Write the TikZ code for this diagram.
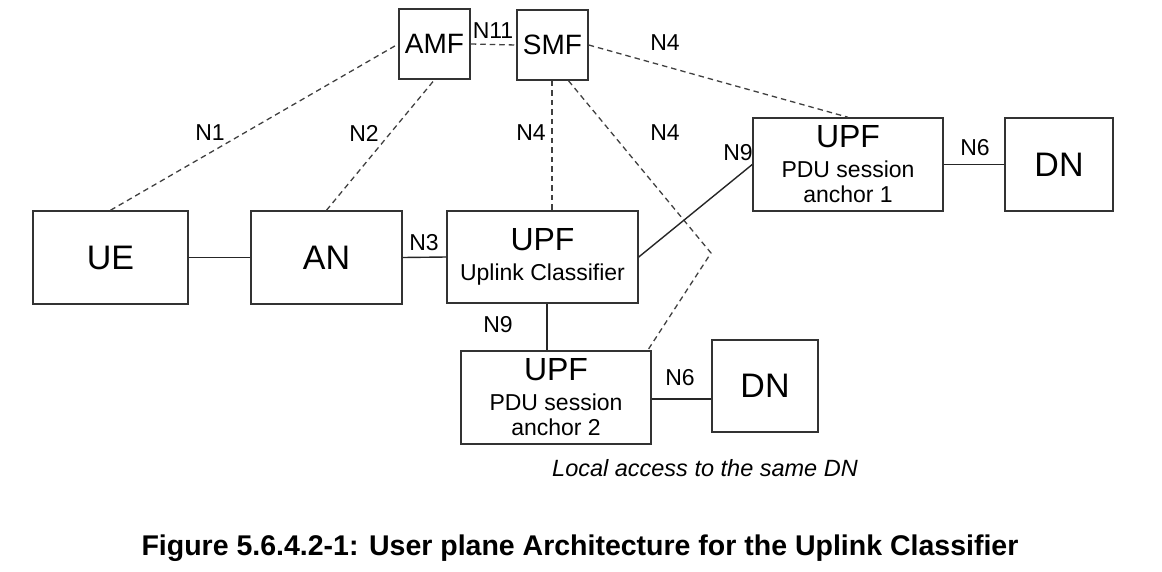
\documentclass[tikz,border=0pt]{standalone}
\usepackage{fontspec}
\setmainfont{Liberation Sans}
\usetikzlibrary{calc}
\begin{document}
\begin{tikzpicture}[x=1pt,y=-1pt,
  box/.style={draw=black!80, line width=1.5pt, inner sep=0pt, align=center, font=\fontsize{34}{38}\selectfont},
  upfbox/.style={box, font=\fontsize{23}{25}\selectfont},
  cpbox/.style={box, font=\fontsize{28}{30}\selectfont},
  lbl/.style={inner sep=0pt, font=\fontsize{23}{25}\selectfont},
  link/.style={draw=black!85, line width=1.4pt},
  ctl/.style={draw=black!75, line width=1.3pt, dash pattern=on 5.5pt off 4pt},
]
\useasboundingbox (0,0) rectangle (1162,571);

% control plane
\node[cpbox, minimum width=71, minimum height=70] (AMF) at (434.5,44) {AMF};
\node[cpbox, minimum width=71, minimum height=70] (SMF) at (552.5,45) {SMF};

% user plane
\node[box, minimum width=155, minimum height=93] (UE) at (110.5,257.5) {UE};
\node[box, minimum width=151, minimum height=93] (AN) at (326.5,257.5) {AN};
\node[upfbox, minimum width=191, minimum height=92] (UL) at (542.5,257) {{\fontsize{32}{32}\selectfont UPF}\\[5pt]Uplink Classifier};
\node[upfbox, minimum width=190, minimum height=93] (A1) at (848,164.5) {{\fontsize{32}{32}\selectfont UPF}\\[5pt]PDU session\\anchor 1};
\node[box, minimum width=108, minimum height=93] (DN1) at (1059,164.5) {DN};
\node[upfbox, minimum width=190, minimum height=93] (A2) at (556,397.5) {{\fontsize{32}{32}\selectfont UPF}\\[5pt]PDU session\\anchor 2};
\node[box, minimum width=106, minimum height=92] (DN2) at (765,386) {DN};

% control connectors
\draw[ctl] (AMF.east) -- (SMF.west);
\draw[ctl] (UE.north) -- (AMF.west);
\draw[ctl] (AN.north) -- (AMF.south);
\coordinate (smfS) at ($(SMF.south)+(-0.5,0)$);
\draw[ctl] (smfS) -- (smfS |- UL.north);
\coordinate (smfS2) at ($(SMF.south)+(16,0)$);
\coordinate (bend) at (711,253);
\coordinate (a2NE) at ($(A2.north east)+(-4,0)$);
\draw[ctl] (smfS2) -- (bend) -- (a2NE);
\draw[ctl] (SMF.east) -- (A1.north);

% user plane connectors
\draw[link] (UE.east) -- (AN.west);
\draw[link] (AN.east) -- (UL.west);
\draw[link] (UL.east) -- (A1.west);
\coordinate (ulS) at ($(UL.south)+(4.5,0)$);
\draw[link] (ulS) -- (ulS |- A2.north);
\coordinate (a2E) at ($(A2.east)+(0,1.5)$);
\draw[link] (a2E) -- (a2E -| DN2.west);
\draw[link] (A1.east) -- (DN1.west);

% labels
\node[lbl] (lN11) at (493,31) {N11};
\node[lbl] (lN1) at (210,133) {N1};
\node[lbl] (lN2) at (364,133) {N2};
\node[lbl] (lN4a) at (531,133) {N4};
\node[lbl] (lN4b) at (665,133) {N4};
\node[lbl] (lN4c) at (665,43) {N4};
\node[lbl] (lN3) at (424,243) {N3};
\node[lbl] (lN9a) at (738,153) {N9};
\node[lbl] (lN9b) at (498,325) {N9};
\node[lbl] (lN6a) at (975,148) {N6};
\node[lbl] (lN6b) at (680,378) {N6};
\node[lbl, font=\fontsize{23.5}{25}\selectfont\itshape] (local) at (705,468) {Local access to the same DN};
\node[inner sep=0pt, font=\fontsize{28.5}{30}\selectfont\bfseries] (cap) at (580,548) {Figure 5.6.4.2-1: User plane Architecture for the Uplink Classifier};
\end{tikzpicture}
\end{document}
